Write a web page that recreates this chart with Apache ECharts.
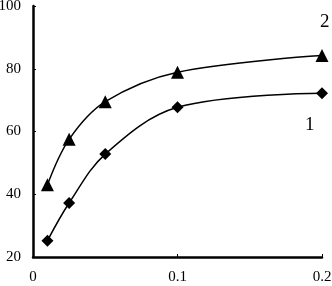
<!DOCTYPE html>
<html>
<head>
<meta charset="utf-8">
<script src="https://cdn.jsdelivr.net/npm/echarts@6/dist/echarts.min.js"></script>
<style>
html, body { margin: 0; padding: 0; background: #fff; }
#chart { width: 332px; height: 286px; }
</style>
</head>
<body>
<div id="chart"></div>
<script>
// concentration on x, value on y
var xValues = [0.01, 0.025, 0.05, 0.1, 0.2];
var curve1 = [25.2, 37.2, 52.8, 67.7, 72.2];   // diamonds
var curve2 = [43, 57.5, 69.5, 78.9, 84.2];     // triangles
var xTicks = [0, 0.1, 0.2];
var yTicks = [20, 40, 60, 80, 100];

function pairs(xs, ys) {
    return xs.map(function (x, i) { return [x, ys[i]]; });
}

var font = '"Liberation Serif", "DejaVu Serif", serif';

var option = {
    animation: false,
    backgroundColor: '#fff',
    grid: { left: 33, right: 10, top: 6, bottom: 29, containLabel: false, outerBoundsMode: 'none' },
    xAxis: {
        type: 'value',
        min: xTicks[0],
        max: xTicks[xTicks.length - 1],
        interval: 0.1,
        splitLine: { show: false },
        axisLine: { show: true, lineStyle: { color: '#000', width: 2.5 } },
        axisTick: { show: true, inside: true, length: 3, lineStyle: { color: '#000', width: 1 } },
        axisLabel: {
            margin: 13,
            color: '#000',
            fontFamily: font,
            fontSize: 15,
            formatter: function (v) { return String(v); }
        }
    },
    yAxis: {
        type: 'value',
        min: yTicks[0],
        max: yTicks[yTicks.length - 1],
        interval: 20,
        splitLine: { show: false },
        axisLine: { show: true, lineStyle: { color: '#000', width: 2.5 } },
        axisTick: { show: true, inside: true, length: 3, lineStyle: { color: '#000', width: 1 } },
        axisLabel: {
            margin: 12,
            color: '#000',
            fontFamily: font,
            fontSize: 15
        }
    },
    series: [
        {
            name: '1',
            type: 'line',
            smooth: 0.35,
            data: pairs(xValues, curve1),
            symbol: 'diamond',
            symbolSize: 12,
            itemStyle: { color: '#000' },
            lineStyle: { color: '#000', width: 1.5 }
        },
        {
            name: '2',
            type: 'line',
            smooth: 0.35,
            data: pairs(xValues, curve2),
            symbol: 'triangle',
            symbolSize: 13,
            itemStyle: { color: '#000' },
            lineStyle: { color: '#000', width: 1.5 }
        }
    ],
    graphic: [
        { type: 'text', left: 305, top: 116, style: { text: '1', font: '19px ' + font, fill: '#000' } },
        { type: 'text', left: 320, top: 13, style: { text: '2', font: '19px ' + font, fill: '#000' } }
    ]
};

var chart = echarts.init(document.getElementById('chart'));
chart.setOption(option);
</script>
</body>
</html>
